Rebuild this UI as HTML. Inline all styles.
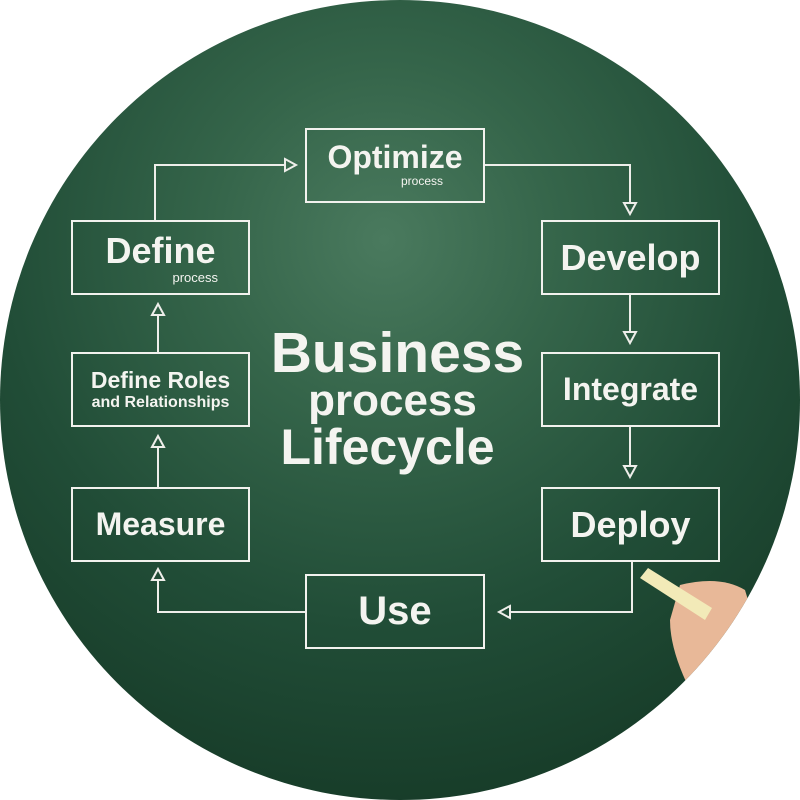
<!DOCTYPE html>
<html><head><style>
html,body{margin:0;padding:0;background:#fff;width:800px;height:800px;overflow:hidden}
.c{position:absolute;left:0;top:0;width:800px;height:800px;border-radius:50%;
background:radial-gradient(circle at 48% 30%,#4a7a5e 0%,#35654a 25%,#214d37 55%,#163a27 85%,#113220 100%);overflow:hidden}
.b{position:absolute;border:2px solid #f2f2ee;box-sizing:border-box;color:#f4f4f0;font-family:"Liberation Sans",sans-serif;font-weight:bold;text-align:center}
.t{position:absolute;color:#f4f4f0;font-family:"Liberation Sans",sans-serif;font-weight:bold;text-align:center;white-space:nowrap}
</style></head><body>
<div class="c">
<svg width="800" height="800" style="position:absolute;left:0;top:0" fill="none" stroke="#eeeeea" stroke-width="2">
<polyline points="155,220 155,165 285,165"/><polygon points="285,159 296,165 285,171" fill="none"/>
<polyline points="485,165 630,165 630,203"/><polygon points="624,203 630,214 636,203"/>
<line x1="630" y1="295" x2="630" y2="332"/><polygon points="624,332 630,343 636,332"/>
<line x1="630" y1="427" x2="630" y2="466"/><polygon points="624,466 630,477 636,466"/>
<polyline points="632,562 632,612 510,612"/><polygon points="510,606 499,612 510,618"/>
<polyline points="305,612 158,612 158,580"/><polygon points="152,580 158,569 164,580"/>
<line x1="158" y1="487" x2="158" y2="447"/><polygon points="152,447 158,436 164,447"/>
<line x1="158" y1="352" x2="158" y2="315"/><polygon points="152,315 158,304 164,315"/>
</svg>
<div class="b" style="left:305px;top:128px;width:180px;height:75px"><div style="font-size:32px;margin-top:10px;line-height:34px">Optimize</div><div style="font-size:12px;text-align:right;padding-right:40px;font-weight:normal">process</div></div>
<div class="b" style="left:541px;top:220px;width:179px;height:75px;font-size:36px;line-height:71px">Develop</div>
<div class="b" style="left:541px;top:352px;width:179px;height:75px;font-size:32px;line-height:71px">Integrate</div>
<div class="b" style="left:541px;top:487px;width:179px;height:75px;font-size:36px;line-height:71px">Deploy</div>
<div class="b" style="left:305px;top:574px;width:180px;height:75px;font-size:40px;line-height:71px">Use</div>
<div class="b" style="left:71px;top:487px;width:179px;height:75px;font-size:32px;line-height:71px">Measure</div>
<div class="b" style="left:71px;top:352px;width:179px;height:75px"><div style="font-size:23px;margin-top:13px;line-height:26px">Define Roles</div><div style="font-size:16px;line-height:20px">and Relationships</div></div>
<div class="b" style="left:71px;top:220px;width:179px;height:75px"><div style="font-size:36px;margin-top:10px;line-height:38px">Define</div><div style="font-size:13px;text-align:right;padding-right:30px;font-weight:normal">process</div></div>
<div class="t" style="left:270px;width:255px;top:322px;font-size:57px;line-height:62px">Business</div>
<div class="t" style="left:300px;width:185px;top:378px;font-size:44px;line-height:46px">process</div>
<div class="t" style="left:280px;width:215px;top:420px;font-size:50px;line-height:54px">Lifecycle</div>
<svg width="800" height="800" style="position:absolute;left:0;top:0">
<path d="M680,585 Q720,575 745,590 L760,640 Q720,700 690,690 Q670,650 670,620 Z" fill="#e8b898"/>
<path d="M640,578 L648,568 L712,608 L705,620 Z" fill="#f2eab8"/>
</svg>
</div>
</body></html>
